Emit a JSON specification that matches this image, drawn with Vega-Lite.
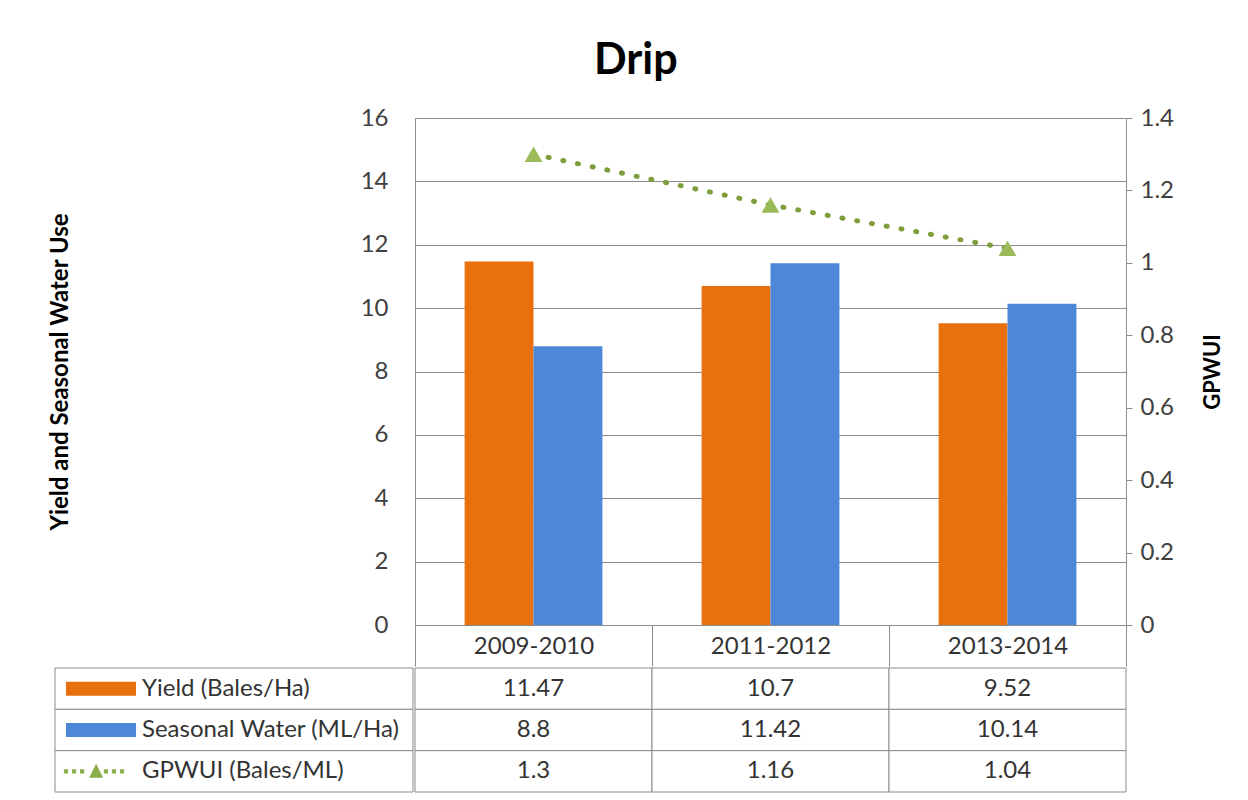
{
  "$schema": "https://vega.github.io/schema/vega-lite/v6.json",
  "padding": {"left": 48, "top": 40, "right": 4, "bottom": 4},
  "background": "white",
  "config": {"view": {"stroke": null}, "font": "Lato"},
  "title": {"text": "Drip", "fontSize": 43, "fontWeight": "bold", "color": "#000000", "anchor": "middle", "frame": "bounds", "offset": 23},
  "datasets": {
    "drip": [
      {"period": "2009-2010", "series": "Yield (Bales/Ha)", "value": 11.47},
      {"period": "2011-2012", "series": "Yield (Bales/Ha)", "value": 10.7},
      {"period": "2013-2014", "series": "Yield (Bales/Ha)", "value": 9.52},
      {"period": "2009-2010", "series": "Seasonal Water (ML/Ha)", "value": 8.8},
      {"period": "2011-2012", "series": "Seasonal Water (ML/Ha)", "value": 11.42},
      {"period": "2013-2014", "series": "Seasonal Water (ML/Ha)", "value": 10.14},
      {"period": "2009-2010", "series": "GPWUI (Bales/ML)", "value": 1.3},
      {"period": "2011-2012", "series": "GPWUI (Bales/ML)", "value": 1.16},
      {"period": "2013-2014", "series": "GPWUI (Bales/ML)", "value": 1.04}
    ]
  },
  "columns": 2,
  "spacing": 0,
  "concat": [
    {
      "width": 358,
      "height": 507,
      "data": {"name": "drip"},
      "transform": [{"filter": "datum.series !== 'GPWUI (Bales/ML)'"}],
      "mark": {"type": "point", "opacity": 0},
      "encoding": {
        "y": {"field": "value", "type": "quantitative", "scale": {"domain": [0, 16], "nice": false},
          "axis": {"orient": "left", "offset": -358, "values": [0, 2, 4, 6, 8, 10, 12, 14, 16], "title": "Yield and Seasonal Water Use", "titleFontSize": 24, "titleFontWeight": "bold", "titleColor": "#000000", "titlePadding": 291, "minExtent": 50, "maxExtent": 50, "labelFontSize": 24, "labelColor": "#404040", "labelPadding": 25, "ticks": false, "domain": false, "grid": false}}
      }
    },
    {
      "width": 711,
      "height": 507,
      "data": {"name": "drip"},
      "encoding": {
        "x": {"field": "period", "type": "nominal", "scale": {"paddingInner": 0, "paddingOuter": 0},
          "axis": {"title": null, "tickBand": "extent", "tickSize": 41, "tickColor": "#8c8c8c", "domainColor": "#8c8c8c", "labelAngle": 0, "labelFontSize": 24, "labelColor": "#333333", "labelPadding": -32, "grid": false}}
      },
      "layer": [
        {
          "transform": [{"filter": "datum.series !== 'GPWUI (Bales/ML)'"}],
          "mark": {"type": "bar"},
          "encoding": {
            "xOffset": {"field": "series", "type": "nominal", "scale": {"domain": ["Yield (Bales/Ha)", "Seasonal Water (ML/Ha)"], "paddingInner": 0, "paddingOuter": 0.72}},
            "y": {"field": "value", "type": "quantitative", "scale": {"domain": [0, 16], "nice": false},
              "axis": {"values": [0, 2, 4, 6, 8, 10, 12, 14, 16], "title": null, "labels": false, "ticks": false, "domainColor": "#8c8c8c", "gridColor": "#8c8c8c", "grid": true}},
            "color": {"field": "series", "type": "nominal", "scale": {"domain": ["Yield (Bales/Ha)", "Seasonal Water (ML/Ha)", "GPWUI (Bales/ML)"], "range": ["#E8700F", "#4D88D8", "#8AAE4A"]}, "legend": null}
          }
        },
        {
          "transform": [{"filter": "datum.series === 'GPWUI (Bales/ML)'"}],
          "encoding": {
            "y": {"field": "value", "type": "quantitative", "scale": {"domain": [0, 1.4], "nice": false},
              "axis": {"orient": "right", "values": [0, 0.2, 0.4, 0.6, 0.8, 1, 1.2, 1.4], "format": "~g", "grid": false, "title": "GPWUI", "titleAngle": -90, "titleBaseline": "top", "titleFontSize": 22, "titleFontWeight": "bold", "titleColor": "#000000", "titlePadding": 29, "labelFontSize": 24, "labelColor": "#404040", "labelPadding": 8, "tickSize": 6, "tickColor": "#8c8c8c", "domainColor": "#8c8c8c"}}
          },
          "layer": [
            {"mark": {"type": "line", "color": "#7E9E3C", "strokeWidth": 5, "strokeDash": [1, 14], "strokeCap": "round"}},
            {"mark": {"type": "point", "shape": "triangle-up", "filled": true, "color": "#9BBB59", "size": 320, "opacity": 1}}
          ]
        }
      ],
      "resolve": {"scale": {"y": "independent"}}
    },
    {
      "width": 358,
      "height": 124,
      "data": {"name": "drip"},
      "transform": [{"filter": "datum.period === '2009-2010'"}],
      "encoding": {
        "y": {"field": "series", "type": "nominal", "scale": {"domain": ["Yield (Bales/Ha)", "Seasonal Water (ML/Ha)", "GPWUI (Bales/ML)"], "paddingInner": 0, "paddingOuter": 0}, "axis": null}
      },
      "layer": [
        {"mark": {"type": "rect", "fill": "white", "stroke": "#8c8c8c", "strokeWidth": 1}},
        {
          "mark": {"type": "point", "filled": true, "size": 4900, "opacity": 1, "xOffset": -133},
          "encoding": {
            "shape": {"field": "series", "type": "nominal", "scale": {"domain": ["Yield (Bales/Ha)", "Seasonal Water (ML/Ha)", "GPWUI (Bales/ML)"], "range": ["M-1,-0.2H1V0.2H-1Z", "M-1,-0.2H1V0.2H-1Z", "M-1.06,-0.06h0.12v0.12h-0.12Z M-0.83,-0.06h0.12v0.12h-0.12Z M-0.6,-0.06h0.12v0.12h-0.12Z M-0.34,0.18L-0.14,-0.22L0.06,0.18Z M0.08,-0.06h0.12v0.12h-0.12Z M0.31,-0.06h0.12v0.12h-0.12Z M0.54,-0.06h0.12v0.12h-0.12Z"]}, "legend": null},
            "color": {"field": "series", "type": "nominal", "scale": {"domain": ["Yield (Bales/Ha)", "Seasonal Water (ML/Ha)", "GPWUI (Bales/ML)"], "range": ["#E8700F", "#4D88D8", "#8AAE4A"]}, "legend": null}
          }
        },
        {
          "mark": {"type": "text", "align": "left", "xOffset": -92, "fontSize": 24, "color": "#333333"},
          "encoding": {"text": {"field": "series", "type": "nominal"}}
        }
      ]
    },
    {
      "width": 711,
      "height": 124,
      "data": {"name": "drip"},
      "encoding": {
        "x": {"field": "period", "type": "nominal", "scale": {"paddingInner": 0, "paddingOuter": 0}, "axis": null},
        "y": {"field": "series", "type": "nominal", "scale": {"domain": ["Yield (Bales/Ha)", "Seasonal Water (ML/Ha)", "GPWUI (Bales/ML)"], "paddingInner": 0, "paddingOuter": 0}, "axis": null}
      },
      "layer": [
        {"mark": {"type": "rect", "fill": "white", "stroke": "#8c8c8c", "strokeWidth": 1}},
        {
          "mark": {"type": "text", "fontSize": 24, "color": "#333333"},
          "encoding": {"text": {"field": "value", "type": "nominal"}}
        }
      ]
    }
  ]
}
